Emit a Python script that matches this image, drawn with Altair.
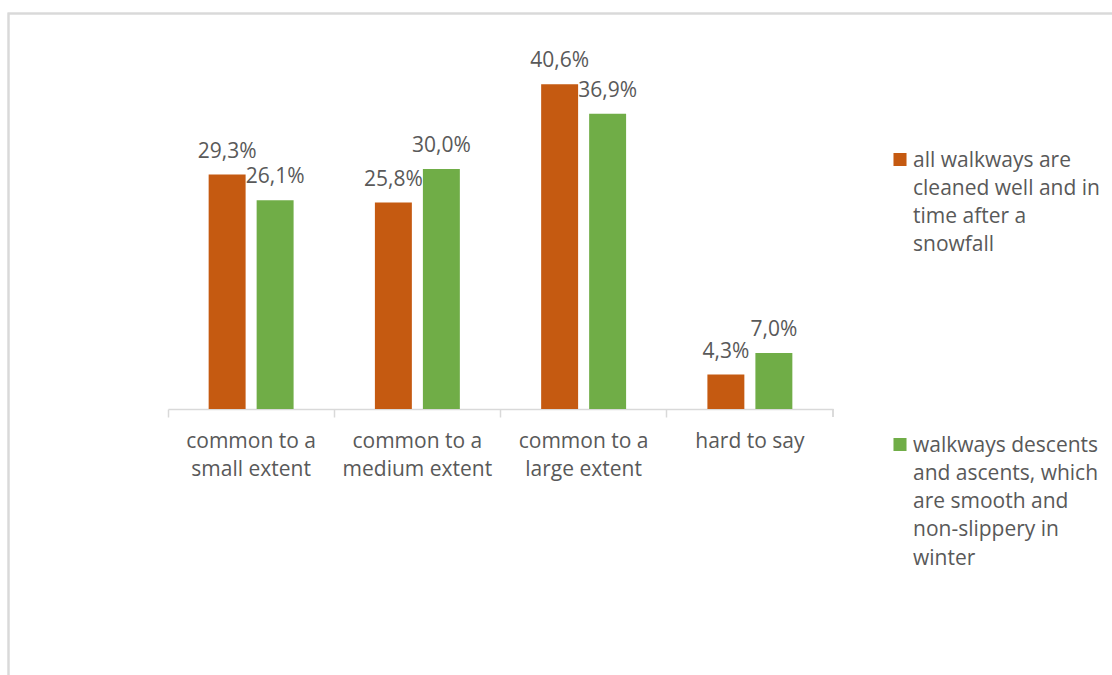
import altair as alt
import pandas as pd

categories = ["common to a\nsmall extent", "common to a\nmedium extent", "common to a\nlarge extent", "hard to say"]
series = [
    "all walkways are\ncleaned well and in\ntime after a\nsnowfall",
    "walkways descents\nand ascents, which\nare smooth and\nnon-slippery in\nwinter",
]
values_a = [29.3, 25.8, 40.6, 4.3]
values_b = [26.1, 30.0, 36.9, 7.0]
colors = ["#C55A11", "#70AD47"]

rows = []
for c, a, b in zip(categories, values_a, values_b):
    rows.append({"category": c, "series": series[0], "value": a})
    rows.append({"category": c, "series": series[1], "value": b})
df = pd.DataFrame(rows)
leg_df = pd.DataFrame({"series": series})

FONT = "Open Sans"
FS = 21
TXT = "#595959"
GRID = "#D9D9D9"

color_scale = alt.Scale(domain=series, range=colors)

x = alt.X("category:N", sort=categories,
          scale=alt.Scale(paddingInner=0, paddingOuter=0),
          axis=alt.Axis(title=None, labelAngle=0, bandPosition=0,
                        labelExpr="split(datum.label, '\\n')",
                        labelFont=FONT, labelFontSize=FS, labelColor=TXT,
                        labelLineHeight=28, labelBaseline="top", labelPadding=13,
                        domainColor=GRID, domainWidth=1.5, tickColor=GRID,
                        tickSize=8, tickWidth=1.5, grid=False))
xo = alt.XOffset("series:N", sort=series,
                 scale=alt.Scale(paddingInner=0.23, paddingOuter=0.847))
y = alt.Y("value:Q", scale=alt.Scale(domain=[0, 45]), axis=None)

base = alt.Chart(df)

bars = base.mark_bar().encode(
    x=x, xOffset=xo, y=y,
    color=alt.Color("series:N", sort=series, scale=color_scale, legend=None),
)

labels = base.mark_text(font=FONT, fontSize=FS, color=TXT, baseline="alphabetic", dy=-17).encode(
    x=x, xOffset=xo, y=y,
    text="lbl:N",
).transform_calculate(
    lbl="replace(format(datum.value, '.1f'), '.', ',') + '%'"
)

# legend (drawn as marks so the wrapped labels keep Excel-like line spacing)
legend_layers = []
for i, (ysym, ytxt) in enumerate([(110.5, 117.5), (395.5, 402.5)]):
    sel = alt.Chart(leg_df).transform_filter(alt.datum.series == series[i])
    legend_layers.append(
        sel.mark_square(size=170, opacity=1).encode(
            x=alt.value(732), y=alt.value(ysym),
            color=alt.Color("series:N", scale=color_scale, legend=None),
        )
    )
    legend_layers.append(
        sel.transform_calculate(lines="split(datum.series, '\\n')").mark_text(
            font=FONT, fontSize=FS, color=TXT, align="left", baseline="alphabetic", lineHeight=28.3
        ).encode(
            x=alt.value(745), y=alt.value(ytxt), text="lines:N"
        )
    )

frame = alt.Chart(leg_df).mark_rect(fill=None, stroke=GRID, strokeWidth=2).encode(
    x=alt.value(-159.5), x2=alt.value(960), y=alt.value(-35.5), y2=alt.value(660)
)

last_tick = alt.Chart(leg_df).mark_rule(color=GRID, strokeWidth=1.5).encode(
    x=alt.value(665), y=alt.value(360), y2=alt.value(368)
)

chart = alt.layer(frame, bars, labels, last_tick, *legend_layers).properties(
    width=665, height=360,
    padding={"left": 168, "top": 49, "right": 279, "bottom": 266},
    autosize=alt.AutoSizeParams(type="none"),
    background="white",
).configure_view(strokeWidth=0, stroke=None)

chart.save("out.html", embed_options={"renderer": "svg", "actions": False})
